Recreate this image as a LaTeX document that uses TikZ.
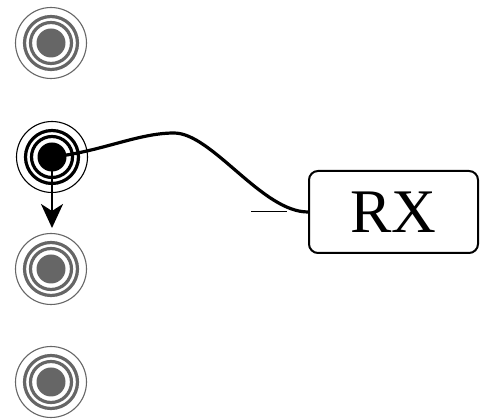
\documentclass[tikz,border=0pt]{standalone}
\usepackage{fontspec}
\setmainfont{Liberation Serif}
\usetikzlibrary{arrows.meta}
\begin{document}
\begin{tikzpicture}[x=1pt,y=1pt,
  jack/.style={circle,draw=none,minimum size=72pt,inner sep=0pt},
  rxbox/.style={draw,line width=2pt,rounded corners=9pt,minimum width=169pt,minimum height=82pt,inner sep=0pt,font=\fontsize{62}{64}\selectfont},
  wire/.style={line width=3.2pt},
]
\useasboundingbox (0,0) rectangle (480,420);
\colorlet{jg}{black!60}
\node[jack] (j1) at (51,377) {};
\node[jack] (j2) at (52,263) {};
\node[jack] (j3) at (51,151) {};
\node[jack] (j4) at (51,38) {};
\foreach \n in {j1,j3,j4}{
  \fill[jg] (\n.center) circle (14.5);
  \draw[jg,line width=3.2pt] (\n.center) circle (20.5);
  \draw[jg,line width=3.2pt] (\n.center) circle (26.5);
  \draw[jg,line width=1.1pt] (\n.center) circle (35.5);
}
\fill[black] (j2.center) circle (14.5);
\draw[black,line width=3.2pt] (j2.center) circle (20.5);
\draw[black,line width=3.2pt] (j2.center) circle (26.5);
\draw[black,line width=1.1pt] (j2.center) circle (35.5);
\node[rxbox] (rx) at (393.5,208) {RX};
\coordinate (peak) at (174,287);
\coordinate (arrowend) at (52,192);
\coordinate (s1) at (251,208);
\coordinate (s2) at (287,208);
\draw[wire] (j2.center) .. controls (100,268) and (138,287) .. (peak)
  .. controls (212,287) and (262,208) .. (rx.west);
\draw[line width=2.8pt,-{Stealth[length=24pt,width=22pt,inset=7pt]}] (j2.center) -- (arrowend);
\draw[line width=1pt] (s1) -- (s2);
\end{tikzpicture}
\end{document}
